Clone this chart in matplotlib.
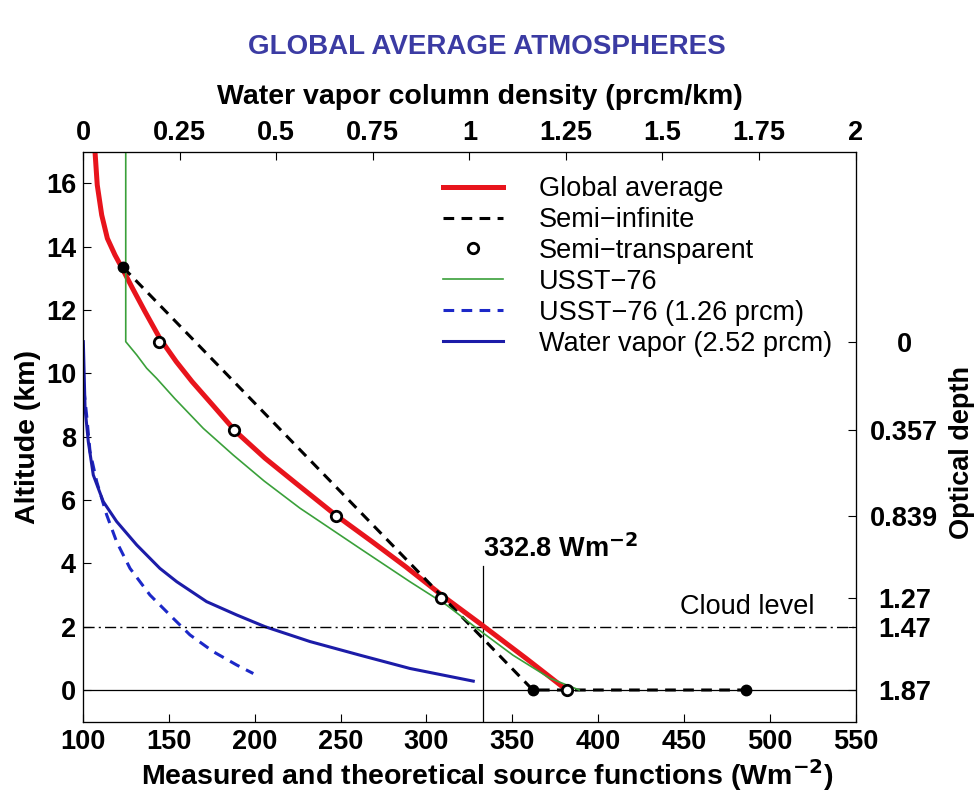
import matplotlib.pyplot as plt

plt.rcParams['font.family'] = ['Liberation Sans', 'DejaVu Sans']

# Global average source function (Wm-2) vs altitude (km)
glob_alt = [17.0, 15.95, 15.0, 14.26, 13.74, 13.32, 12.69, 11.95, 11.1, 10.37, 9.74, 9.0, 8.16,
            7.32, 6.53, 5.53, 4.68, 3.89, 2.95, 2.1, 1.0, 0]
glob_src = [107.0, 108.3, 110.9, 114.2, 118.6, 122.8, 128.8, 136.1, 144.8, 154.3, 163.5, 175.5, 189.0,
            206.0, 224.0, 247.0, 268.5, 288.0, 310.0, 331.2, 358.0, 381.7]

# Semi-infinite model
sinf_alt = [13.35, 0, 0]
sinf_src = [123.3, 362, 486]

# Semi-transparent model points
stra_alt = [11.0, 8.2, 5.5, 2.9, 0]
stra_src = [144.3, 188, 247.3, 308.5, 381.9]

# USST-76
usst_alt = [17, 11.0, 10.58, 10.16, 9.84, 9.2, 8.26, 7.42, 6.6, 5.74, 5.53, 4.47, 3.42, 2.68,
            1.95, 1.1, 0.37, 0]
usst_src = [124.9, 124.9, 131.3, 137.1, 142.9, 153.5, 170.1, 187.5, 205.5, 226.4, 232.2, 261.3, 290.4,
            311.8, 329.3, 350.4, 372.0, 389.0]

# USST-76 water vapor (1.26 prcm)
usst_wv_alt = [9.5, 8.69, 7.53, 6.58, 5.53, 4.68, 3.84, 3.0, 2.26, 1.74, 1.21, 0.79, 0.52]
usst_wv_src = [100.5, 102.1, 104.1, 108.0, 113.8, 119.6, 127.4, 139.0, 152.6, 162.3, 175.9, 189.5, 199.2]

# Water vapor (2.52 prcm)
wv_alt = [11.0, 8.9, 7.84, 6.79, 5.95, 5.32, 4.58, 3.84, 3.42, 2.79, 2.37, 2.0, 1.53, 1.1, 0.68, 0.28]
wv_src = [100.2, 101.2, 103.1, 106.0, 111.8, 119.6, 131.3, 144.8, 154.6, 172.0, 189.5, 206.0, 232.2,
          261.3, 290.4, 327.3]

# optical depth marks on the right axis
tau_alt = [11.0, 8.2, 5.5, 2.9, 2.0, 0]
tau_lbl = ['0', '0.357', '0.839', '1.27', '1.47', '1.87']

top_ticks = [0, 0.25, 0.5, 0.75, 1, 1.25, 1.5, 1.75, 2]
top_lbl = ['0', '0.25', '0.5', '0.75', '1', '1.25', '1.5', '1.75', '2']

s_ref = 332.8
cloud_alt = 2.0

FS = 19.5

fig = plt.figure(figsize=(9.74, 7.94), dpi=100)
ax = fig.add_axes([0.0852, 0.0911, 0.7933, 0.7179])

ax.plot(glob_src, glob_alt, color='#e8141c', lw=3.6, label='Global average', zorder=4)
ax.plot(sinf_src, sinf_alt, color='black', ls=(0, (3.5, 2.4)), lw=2.2, label='Semi\u2212infinite', zorder=5)
ax.plot(stra_src, stra_alt, ls='none', marker='o', ms=7.5, mfc='white', mec='black', mew=2,
        label='Semi\u2212transparent', zorder=7)
ax.plot(usst_src, usst_alt, color='#3aa03a', lw=1.2, label='USST\u221276', zorder=5)
ax.plot(usst_wv_src, usst_wv_alt, color='#1c28c8', ls=(0, (3.5, 2.4)), lw=2.2,
        label='USST\u221276 (1.26 prcm)')
ax.plot(wv_src, wv_alt, color='#1c1ca8', lw=2.2, label='Water vapor (2.52 prcm)')

# filled endpoints of the semi-infinite model
ax.plot(sinf_src, sinf_alt, ls='none', marker='o', ms=7.5, color='black', zorder=6)

ax.axhline(0, color='black', lw=0.9)
ax.axhline(cloud_alt, color='black', lw=1, ls=(0, (8, 3, 1.5, 3)))
ax.plot([s_ref, s_ref], [-1, 3.9], color='black', lw=0.9)
ax.text(s_ref, 4.02, '332.8 Wm$^{\\mathbf{-2}}$', fontsize=FS, fontweight='bold', ha='left', va='bottom')
ax.text(447.5, 2.2, 'Cloud level', fontsize=FS, ha='left', va='bottom')

ax.set_xlim(100, 550)
ax.set_ylim(-1, 17)
ax.set_xticks(range(100, 551, 50))
ax.set_yticks(range(0, 17, 2))
ax.tick_params(direction='in', labelsize=FS, length=6, width=0.8, pad=5)
for t in ax.get_xticklabels() + ax.get_yticklabels():
    t.set_fontweight('bold')
ax.set_xlabel('Measured and theoretical source functions (Wm$^{\\mathbf{-2}}$)', fontsize=20.5,
              fontweight='bold')
ax.xaxis.set_label_coords(0.523, -0.094)
ax.xaxis.label.set_va('center')
ax.set_ylabel('Altitude (km)', fontsize=20.5, fontweight='bold')
ax.yaxis.set_label_coords(-0.071, 0.5)
ax.yaxis.label.set_va('center')

ax.legend(loc='upper left', bbox_to_anchor=(0.466, 0.957), frameon=False, fontsize=FS,
          handlelength=2.2, handletextpad=1.35, labelspacing=0.18, borderaxespad=0, borderpad=0)

# top axis: water vapor column density
axt = ax.twiny()
axt.set_xlim(0, 2)
axt.set_xticks(top_ticks)
axt.set_xticklabels(top_lbl, fontsize=FS, fontweight='bold')
axt.tick_params(direction='in', length=6, width=0.8, pad=4)
axt.set_xlabel('Water vapor column density (prcm/km)', fontsize=20.5, fontweight='bold')
axt.xaxis.set_label_coords(0.514, 1.096)
axt.xaxis.label.set_va('center')

# right axis: optical depth
axr = ax.twinx()
axr.set_ylim(-1, 17)
axr.set_yticks(tau_alt)
axr.set_yticklabels(tau_lbl, fontsize=FS, fontweight='bold', ha='center')
axr.tick_params(direction='in', length=6, width=0.8, pad=35)
axr.set_ylabel('Optical depth', fontsize=FS, fontweight='bold')
axr.yaxis.set_label_coords(1.1376, 0.473)
axr.yaxis.label.set_va('center')

for a in (ax, axt, axr):
    for s in a.spines.values():
        s.set_linewidth(0.8)

fig.text(0.5, 0.941, 'GLOBAL AVERAGE ATMOSPHERES', ha='center', va='center', fontsize=20,
         fontweight='bold', color='#3b3ba3')

fig.savefig('out.png', dpi=100)
